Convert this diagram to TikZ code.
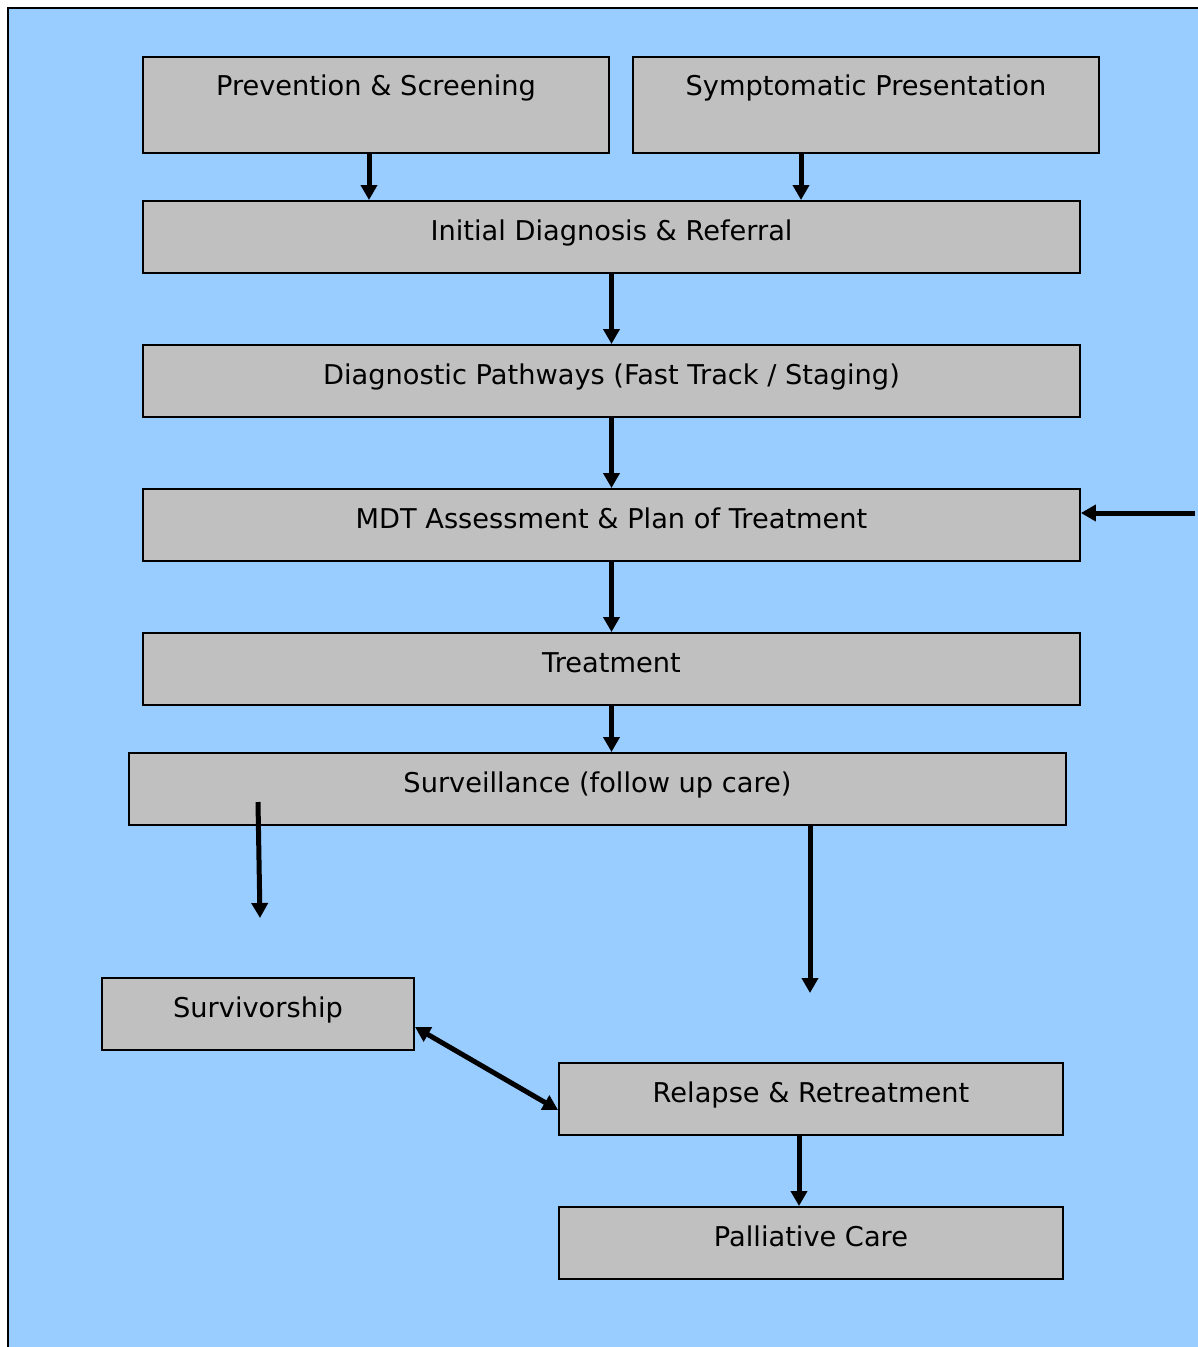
\documentclass[tikz,border=0pt]{standalone}
\usepackage{fontspec}
\setmainfont{DejaVu Sans}
\usetikzlibrary{arrows.meta}
\definecolor{paneblue}{HTML}{99CCFF}
\definecolor{boxgrey}{HTML}{C0C0C0}
\tikzset{
  stage/.style={draw=black, fill=boxgrey, line width=0.04cm, inner sep=0pt,
    minimum height=1.44cm, text height=0.72em, text depth=0.12cm,
    font=\fontsize{15.5}{18}\selectfont},
  tallstage/.style={stage, minimum height=1.92cm, text depth=0.64cm},
  flow/.style={draw=black, line width=0.1cm, -{Triangle[length=0.3cm,width=0.32cm]}},
  flowboth/.style={flow, {Triangle[length=0.3cm,width=0.32cm]}-{Triangle[length=0.3cm,width=0.32cm]}},
}
\begin{document}
\begin{tikzpicture}[x=0.02cm, y=-0.02cm]
		\useasboundingbox (0,0) rectangle (1198,1347);
		\fill[paneblue] (8,8) rectangle (1198,1347);
		\draw[line width=0.05cm] (8,1347) -- (8,8) -- (1198,8);

		\node[tallstage, minimum width=9.32cm] (prev) at (376,105) {Prevention \& Screening};
		\node[tallstage, minimum width=9.32cm] (symp) at (866,105) {Symptomatic Presentation};
		\node[stage, minimum width=18.74cm] (init) at (611.5,237) {Initial Diagnosis \& Referral};
		\node[stage, minimum width=18.74cm] (diag) at (611.5,381) {Diagnostic Pathways (Fast Track / Staging)};
		\node[stage, minimum width=18.74cm] (mdt) at (611.5,525) {MDT Assessment \& Plan of Treatment};
		\node[stage, minimum width=18.74cm] (treat) at (611.5,669) {Treatment};
		\node[stage, minimum width=18.74cm] (surveil) at (597.5,789) {Surveillance (follow up care)};
		\node[stage, minimum width=6.24cm] (surviv) at (258,1014) {Survivorship};
		\node[stage, minimum width=10.08cm] (relapse) at (811,1099) {Relapse \& Retreatment};
		\node[stage, minimum width=10.08cm] (pall) at (811,1243) {Palliative Care};

		\coordinate (survstart) at (258,802);
		\coordinate (survend) at (260,918);
		\coordinate (relend) at (810,993);
		\coordinate (mdtin) at (1195,513);

		\draw[flow] ([xshift=-0.14cm]prev.south) -- ([xshift=-0.14cm]prev.south |- init.north);
		\draw[flow] ([xshift=-1.3cm]symp.south) -- ([xshift=-1.3cm]symp.south |- init.north);
		\draw[flow] (init.south) -- (diag.north);
		\draw[flow] (diag.south) -- (mdt.north);
		\draw[flow] (mdt.south) -- (treat.north);
		\draw[flow] (mdtin) -- (mdtin -| mdt.east);
		\draw[flow] (treat.south) -- (treat.south |- surveil.north);
		\draw[flow] (survstart) -- (survend);
		\draw[flow] (relend |- surveil.south) -- (relend);
		\draw[flowboth] ([yshift=-0.26cm]surviv.east) -- ([yshift=-0.22cm]relapse.west);
		\draw[flow] ([xshift=-0.24cm]relapse.south) -- ([xshift=-0.24cm]relapse.south |- pall.north);
	\end{tikzpicture}
\end{document}
